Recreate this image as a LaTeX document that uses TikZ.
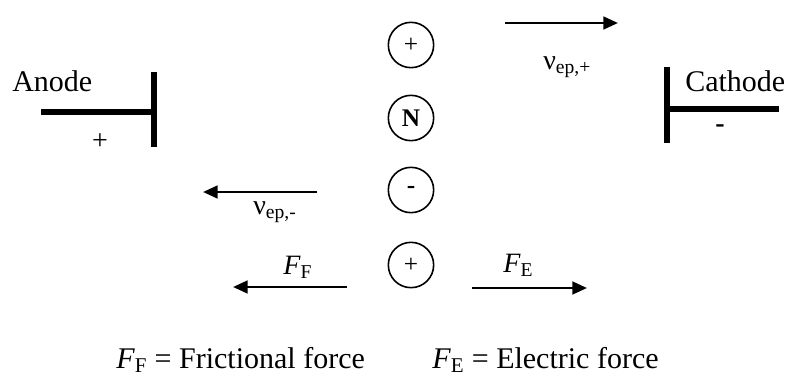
\documentclass[tikz,border=0pt]{standalone}
\usepackage{fontspec}
\setmainfont{Liberation Serif}
\usetikzlibrary{positioning,arrows.meta}

\begin{document}
\begin{tikzpicture}[
    x=0.75pt, y=-0.75pt,
    plate/.style={line width=4pt},
    ion/.style={draw, circle, line width=1.2pt, minimum size=34pt, inner sep=0pt, font=\fontsize{19}{19}\selectfont},
    txt/.style={inner sep=0pt, font=\fontsize{22.5}{22.5}\selectfont},
    sub/.style={inner sep=0pt, font=\fontsize{21}{21}\selectfont},
    vec/.style={->, line width=2pt},
    >={Triangle[length=11pt,width=9.5pt]}
]
\useasboundingbox (0,0) rectangle (793,379);

% electrodes
\draw[plate] (154,72) -- (154,147);
\draw[plate] (41,112) -- (154,112);
\node[txt, anchor=base west] (anode) at (12,91) {Anode};
\node[sub] (anodesign) at (100,142) {+};
\draw[plate] (667,67) -- (667,143);
\draw[plate] (667,109) -- (779,109);
\node[txt, anchor=base west] (cathode) at (685,91) {Cathode};
\node[sub] (cathodesign) at (720,129) {\textbf{-}};

% ions
\node[ion] (cat) at (411,45) {+};
\node[ion] (neu) at (411,118) {\textbf{N}};
\node[ion] (ani) at (411,190) {\textbf{-}};
\node[ion] (cat2) at (411,265) {+};

% velocities
\coordinate (vpa) at (505,23);
\coordinate (vpb) at (618,23);
\draw[vec] (vpa) -- (vpb);
\node[sub, anchor=west] (vplus) at (543,67) {ν\textsubscript{ep,+}};
\coordinate (vma) at (317,192);
\coordinate (vmb) at (203,192);
\draw[vec] (vma) -- (vmb);
\node[sub, anchor=west] (vminus) at (253,212) {ν\textsubscript{ep,-}};

% forces
\coordinate (ffa) at (347,287);
\coordinate (ffb) at (233,287);
\draw[vec] (ffa) -- (ffb);
\node[sub, anchor=west] (fflbl) at (283,267) {\textit{F}\textsubscript{F}};
\coordinate (fea) at (472,288);
\coordinate (feb) at (587,288);
\draw[vec] (fea) -- (feb);
\node[sub, anchor=west] (felbl) at (503,265) {\textit{F}\textsubscript{E}};

% legend
\node[txt, anchor=base west] (fflegend) at (116,368) {\textit{F}\textsubscript{F} = Frictional force};
\node[txt, anchor=base west] (felegend) at (432,368) {\textit{F}\textsubscript{E} = Electric force};
\end{tikzpicture}
\end{document}
